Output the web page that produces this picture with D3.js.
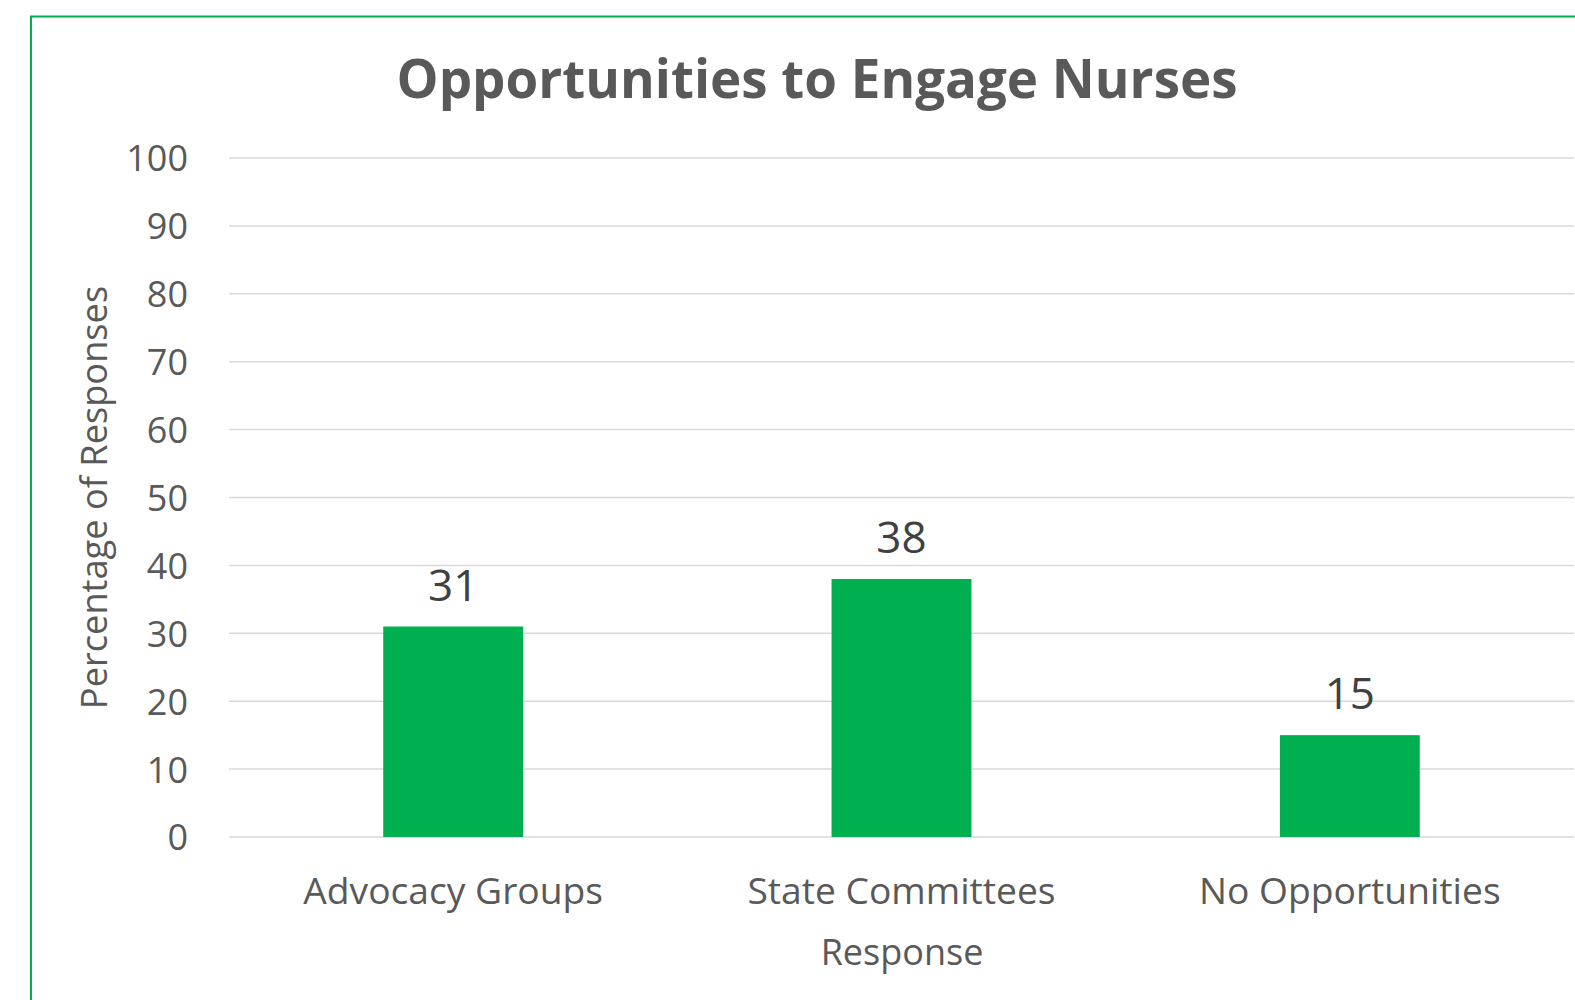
<!DOCTYPE html>
<html>
<head>
<meta charset="utf-8">
<script src="https://cdn.jsdelivr.net/npm/d3@7"></script>
<style>
  html, body { margin: 0; padding: 0; background: #ffffff; overflow: hidden; }
  svg { display: block; }
  text { font-family: "Open Sans", "Noto Sans", sans-serif; }
</style>
</head>
<body>
<svg id="chart" width="1575" height="1000"></svg>
<script>
const chartTitle = "Opportunities to Engage Nurses";
const categories = ["Advocacy Groups", "State Committees", "No Opportunities"];
const values = [31, 38, 15];
const yTicks = [0, 10, 20, 30, 40, 50, 60, 70, 80, 90, 100];
const xAxisTitle = "Response";
const yAxisTitle = "Percentage of Responses";

const W = 1575, H = 1000;
const svg = d3.select("#chart");
svg.append("rect").attr("width", W).attr("height", H).attr("fill", "#ffffff");

// chart border (extends beyond the visible frame on right and bottom)
svg.append("rect")
  .attr("x", 31).attr("y", 16.5)
  .attr("width", 1620).attr("height", 1040)
  .attr("fill", "none").attr("stroke", "#00B050").attr("stroke-width", 2);

const plot = { left: 229, right: 1574, top: 158, bottom: 837 };

const x = d3.scaleBand()
  .domain(categories)
  .range([plot.left, plot.right])
  .paddingInner(0.688)
  .paddingOuter(0.344);

const y = d3.scaleLinear().domain([0, 100]).range([plot.bottom, plot.top]);

// gridlines
svg.append("g").selectAll("line").data(yTicks).join("line")
  .attr("x1", plot.left).attr("x2", plot.right)
  .attr("y1", d => y(d)).attr("y2", d => y(d))
  .attr("stroke", "#D9D9D9").attr("stroke-width", 1.5);

// y axis tick labels
const yAxis = d3.axisLeft(y).tickValues(yTicks).tickSize(0).tickPadding(0);
const gy = svg.append("g").attr("transform", `translate(188,0)`).call(yAxis);
gy.select(".domain").remove();
gy.selectAll("text")
  .attr("fill", "#595959")
  .style("font-size", "36px")
  .style("font-family", "'Open Sans', sans-serif")
  .attr("dy", "0.36em");

// bars
svg.append("g").selectAll("rect").data(values).join("rect")
  .attr("x", (d, i) => x(categories[i]))
  .attr("y", d => y(d))
  .attr("width", x.bandwidth())
  .attr("height", d => y(0) - y(d))
  .attr("fill", "#00B050");

// data labels
svg.append("g").selectAll("text").data(values).join("text")
  .attr("x", (d, i) => x(categories[i]) + x.bandwidth() / 2)
  .attr("y", d => y(d) - 26)
  .attr("text-anchor", "middle")
  .attr("fill", "#404040")
  .style("font-size", "44px")
  .text(d => d);

// x axis category labels
const xAxis = d3.axisBottom(x).tickSize(0).tickPadding(0);
const gx = svg.append("g").attr("transform", `translate(0,${plot.bottom})`).call(xAxis);
gx.select(".domain").remove();
gx.selectAll("text")
  .attr("fill", "#595959")
  .style("font-size", "37.2px")
  .style("font-family", "'Open Sans', sans-serif")
  .attr("dy", null)
  .attr("y", 67);

// axis titles
svg.append("text")
  .attr("x", 902).attr("y", 965)
  .attr("text-anchor", "middle")
  .attr("fill", "#595959")
  .style("font-size", "36px")
  .text(xAxisTitle);

svg.append("text")
  .attr("transform", `translate(107,${(plot.top + plot.bottom) / 2}) rotate(-90)`)
  .attr("text-anchor", "middle")
  .attr("fill", "#595959")
  .style("font-size", "36.2px")
  .text(yAxisTitle);

// title
svg.append("text")
  .attr("x", 817).attr("y", 98)
  .attr("text-anchor", "middle")
  .attr("fill", "#595959")
  .style("font-size", "52.9px")
  .style("font-weight", "bold")
  .text(chartTitle);
</script>
</body>
</html>
